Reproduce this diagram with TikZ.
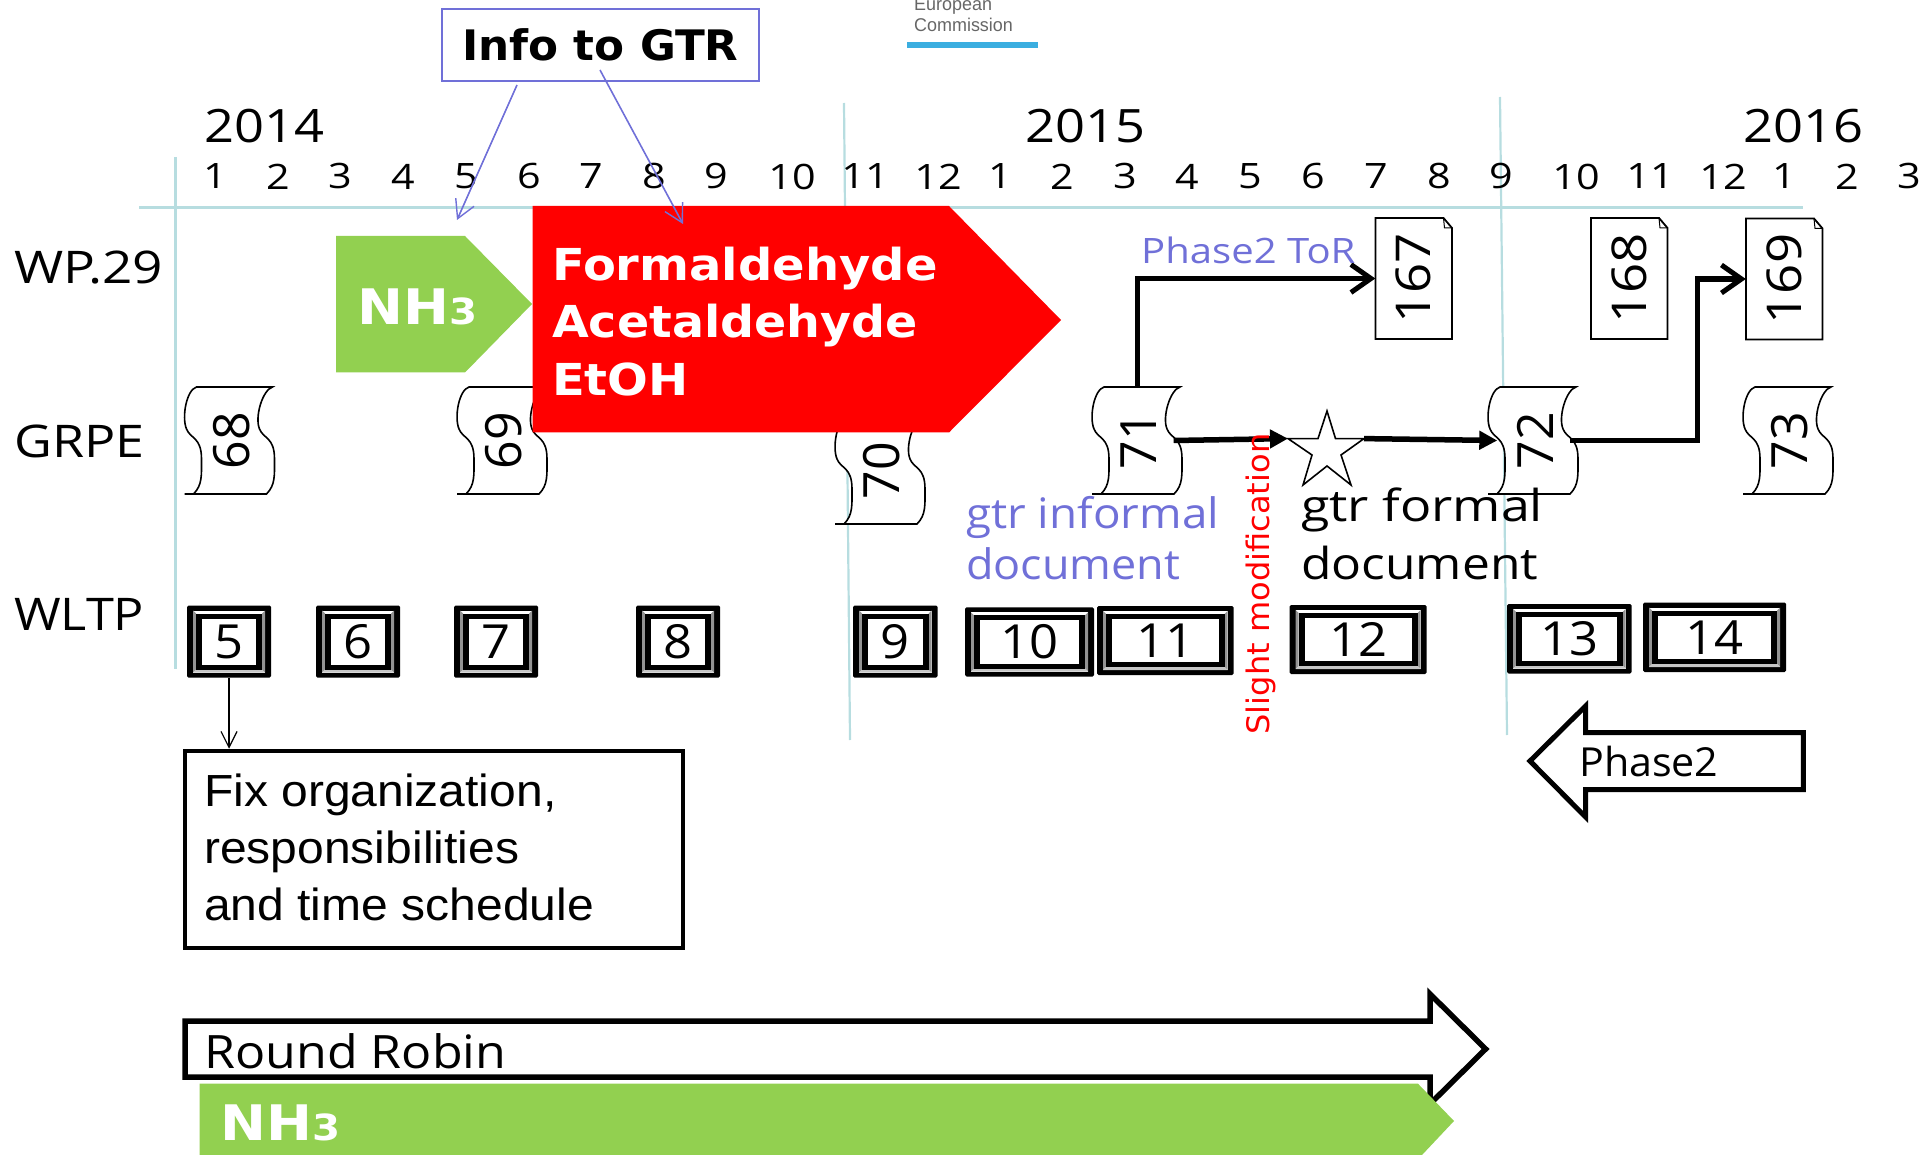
\documentclass[tikz,border=0pt]{standalone}
\usepackage{fontspec}
\usetikzlibrary{arrows.meta}
\setmainfont{Open Sans}
\newfontfamily\arialf{Liberation Sans}
\newfontfamily\wideb{DejaVu Sans}
\definecolor{gridc}{HTML}{B7DDE0}
\definecolor{bluet}{HTML}{7070D8}
\definecolor{greenb}{HTML}{92D050}
\definecolor{logob}{HTML}{3BAEE0}
\newcommand{\fs}[1]{\fontsize{#1}{#1}\selectfont}
\newcommand{\wsc}[2]{\scalebox{#1}[1]{#2}}
\newcommand{\scrollshape}[4]{% name, left x, top y, text
  \begin{scope}[shift={(#2,#3)}]
    \draw[scrollline,fill=white] (12,0) -- (88,0) .. controls (78,3) and (70,30) .. (75,42) .. controls (79,52) and (90,50) .. (90,72) .. controls (90,88) and (91,98) .. (82,107) -- (0,107) -- (9,107) .. controls (18,98) and (17,88) .. (17,72) .. controls (17,50) and (6,52) .. (2,42) .. controls (-3,30) and (2,3) .. (12,0) -- cycle;
  \end{scope}
  \node[scrolltext] (#1) at (#2+45.5,#3+53.5) {\hspace*{3pt}\rotatebox{90}{#4}};
}
\newcommand{\docshape}[4]{% name, x1, y1, text
  \begin{scope}[shift={(#2,#3)}]
    \draw[docline,fill=white] (0,0) -- (68,0) -- (76.5,10) -- (76.5,121) -- (0,121) -- cycle;
    \draw[line width=1pt] (68,0) -- (69,10) -- (76.5,10);
  \end{scope}
  \node[doctext] (#1) at (#2+38.25,#3+60.5) {\rotatebox{90}{\wsc{1.1}{#4}}};
}
\newcommand{\bevelbox}[6]{% name x1 y1 x2 y2 text
  \fill[black,rounded corners=1.5pt] (#2,#3) rectangle (#4,#5);
  \fill[white] (#2+6,#3+5) rectangle (#4-6,#5-5);
  \fill[gray!85] (#2+6,#3+5) -- (#2+9,#3+8) -- (#2+9,#5-8) -- (#2+6,#5-5) -- cycle;
  \fill[gray!85] (#4-6,#3+5) -- (#4-9,#3+8) -- (#4-9,#5-8) -- (#4-6,#5-5) -- cycle;
  \fill[gray!45] (#2+6,#5-5) -- (#2+9,#5-8) -- (#4-9,#5-8) -- (#4-6,#5-5) -- cycle;
  \fill[black] (#2+9,#3+8) rectangle (#4-9,#5-8);
  \fill[white] (#2+15,#3+13) rectangle (#4-15,#5-13);
  \node[bevtext,minimum width=#4-#2,minimum height=#5-#3] (#1) at ({(#2+#4)/2},{(#3+#5)/2}) {\wsc{1.08}{#6}};
}
\tikzset{
  gridline/.style={gridc,line width=2.2pt},
  scrollline/.style={black,line width=1.6pt},
  docline/.style={black,line width=1.8pt},
  scrolltext/.style={inner sep=0pt,minimum width=72pt,minimum height=107pt,font=\fs{50}},
  doctext/.style={inner sep=0pt,minimum width=76.5pt,minimum height=121pt,font=\fs{48}},
  bevtext/.style={inner sep=0pt,font=\fs{47}},
  month/.style={inner sep=0pt,font=\fs{35}},
  year/.style={inner sep=0pt,font=\fs{46}},
  rowlabel/.style={inner sep=0pt,anchor=base west,font=\fs{45}},
  thick arrow/.style={black,line width=5.5pt,-{Straight Barb[length=20pt,width=28pt,line width=5pt]}},
  thick solid/.style={black,line width=5.5pt,-{Triangle[length=18pt,width=18pt]}},
  thin blue/.style={bluet,line width=1.6pt,-{Straight Barb[length=18pt,width=20pt,line width=1.4pt]}},
  blocktext/.style={inner sep=0pt,anchor=base west,white,font=\fs{44}\bfseries\wideb},
  plaintext/.style={inner sep=0pt,anchor=base west},
}
\begin{document}
\begin{tikzpicture}[x=1pt,y=-1pt]
\useasboundingbox (0,0) rectangle (1923,1155);
\clip (0,0) rectangle (1923,1155);
% grid
\draw[gridc,line width=3pt] (139,208) -- (1803,208);
\draw[gridline] (175.5,157) -- (175.5,669);
\draw[gridline] (844,103) -- (850,740);
\draw[gridline] (1500,97) -- (1507,735);
% logo
\node[plaintext,gray!80!black,font=\arialf\fs{18.5}] (eu1) at (914,11) {\wsc{.97}{European}};
\node[plaintext,gray!80!black,font=\arialf\fs{18.5}] (eu2) at (914,32) {\wsc{.97}{Commission}};
\fill[logob] (907,42) rectangle (1038,48);
% years
\node[year] (y14) at (264,126) {\wsc{1.14}{2014}};
\node[year] (y15) at (1085,126) {\wsc{1.14}{2015}};
\node[year] (y16) at (1803,126) {\wsc{1.14}{2016}};
% months
\foreach \xx/\mm in {215/1,278/2,340/3,403/4,466/5,529/6,591/7,654/8,716/9,792/10,865/11,938/12,1000/1,1062/2,1125/3,1187/4,1250/5,1313/6,1376/7,1439/8,1501/9,1576/10,1650/11,1723/12,1784/1,1847/2,1909/3}
  \node[month] at (\xx,176.5) {\wsc{1.18}{\mm}};
% row labels
\node[rowlabel] (wp) at (14,284) {\wsc{1.18}{WP.29}};
\node[rowlabel] (gr) at (14,457) {\wsc{1.155}{GRPE}};
\node[rowlabel] (wl) at (14,630) {\wsc{1.12}{WLTP}};
% scrolls
\scrollshape{s68}{184.5}{387}{68}
\scrollshape{s69}{457}{387}{69}
\scrollshape{s70}{835}{417}{70}
\scrollshape{s71}{1092}{387}{71}
\scrollshape{s72}{1488}{387}{72}
\scrollshape{s73}{1743}{387}{73}
% docs
\docshape{d167}{1375.5}{218}{167}
\docshape{d168}{1591}{218}{168}
\docshape{d169}{1746}{218.5}{169}
% coloured blocks
\fill[greenb] (336,236) -- (465,236) -- (532,304) -- (465,372.5) -- (336,372.5) -- cycle;
\node[blocktext] (nh1) at (357,324.5) {\wsc{1.12}{\fs{49}NH\fs{36}3}};
\fill[red] (532.5,206) -- (949,206) -- (1061,320) -- (949,432.5) -- (532.5,432.5) -- cycle;
\node[blocktext] (f1) at (552,280.5) {\wsc{1.09}{Formaldehyde}};
\node[blocktext] (f2) at (552,338) {\wsc{1.08}{Acetaldehyde}};
\node[blocktext] (f3) at (552,395.5) {\wsc{1.09}{EtOH}};
% info
\node[draw=bluet,line width=2pt,inner sep=0pt,minimum width=317pt,minimum height=72pt,font=\fs{42}\bfseries\wideb] (info) at (600.5,45) {\raisebox{-1.5pt}{\wsc{1.04}{Info to GTR}}};
\coordinate (ia) at (517,85);
\coordinate (iat) at (457,220);
\coordinate (ib) at (600,70);
\coordinate (ibt) at (683,224);
\draw[thin blue] (ia) -- (iat);
\draw[thin blue] (ib) -- (ibt);
% star
\coordinate (starW) at (1288,438.6);
\coordinate (starE) at (1364,438.6);
\draw[black,line width=1.6pt,fill=white] (1327,411) -- (1335.5,438.6) -- (starE) -- (1341,455) -- (1351,485) -- (1327,466) -- (1303,485) -- (1312,455) -- (starW) -- (1318,438.6) -- cycle;
% thick connectors
\draw[thick arrow] (s71.north) |- (d167.west);
\draw[thick solid] (s71.east) -- (starW);
\draw[thick solid] (starE) -- (s72.west);
\draw[thick arrow] (s72.east) -| (1697.5,279) -- (d169.west);
% labels
\node[plaintext,bluet,font=\fs{35}] (tor) at (1141,263.5) {\wsc{1.145}{Phase2 ToR}};
\node[plaintext,bluet,font=\fs{42}] (gi1) at (966,528) {\wsc{1.09}{gtr informal}};
\node[plaintext,bluet,font=\fs{42}] (gi2) at (966,579) {\wsc{1.07}{document}};
\node[plaintext,black,font=\fs{44}] (gf1) at (1301,521) {\wsc{1.18}{gtr formal}};
\node[plaintext,black,font=\fs{44}] (gf2) at (1301,579) {\wsc{1.13}{document}};
\node[inner sep=0pt,red,rotate=90,font=\wideb\fs{31}] (sm) at (1261,584) {\wsc{1.035}{Slight modification}};
% wltp boxes
\bevelbox{w5}{187}{605.5}{271}{677.6}{5}
\bevelbox{w6}{316}{605.5}{400}{677.6}{6}
\bevelbox{w7}{454}{605.5}{538}{677.6}{7}
\bevelbox{w8}{636}{605.5}{720}{677.6}{8}
\bevelbox{w9}{853}{605.5}{937.5}{677.6}{9}
\bevelbox{w10}{965}{607.4}{1094}{676.5}{10}
\bevelbox{w11}{1097}{606}{1233.7}{675}{11}
\bevelbox{w12}{1289.6}{605}{1426.7}{674}{12}
\bevelbox{w13}{1507}{604}{1631.5}{673.5}{13}
\bevelbox{w14}{1643}{602.5}{1786}{672}{14}
% fix box
\node[draw=black,line width=4.5pt,minimum width=498pt,minimum height=197pt,inner sep=0pt] (fix) at (434,849.5) {};
\node[plaintext,font=\arialf\fs{45}] (fx1) at (204,806.7) {\wsc{1.067}{Fix organization,}};
\node[plaintext,font=\arialf\fs{45}] (fx2) at (204,863.6) {\wsc{1.067}{responsibilities}};
\node[plaintext,font=\arialf\fs{45}] (fx3) at (204,920.5) {\wsc{1.067}{and time schedule}};
\draw[black,line width=1.4pt,-{Straight Barb[length=16pt,width=16pt,line width=1.2pt]}] (w5.south) -- (w5.south |- fix.north);
% phase2
\draw[black,line width=5pt,fill=white] (1530,761) -- (1585.6,706) -- (1585.6,732.7) -- (1803.4,732.7) -- (1803.4,789.6) -- (1585.6,789.6) -- (1585.6,817) -- cycle;
\node[plaintext,font=\fs{40}] (ph) at (1579,776) {\wsc{1.03}{Phase2}};
% round robin
\draw[black,line width=5.5pt,fill=white] (185,1021) -- (1430,1021) -- (1430,994) -- (1485.6,1049) -- (1430,1104) -- (1430,1077) -- (185,1077) -- cycle;
\node[plaintext,font=\fs{46}] (rr) at (204,1068) {\wsc{1.09}{Round Robin}};
\fill[greenb] (199.6,1083.7) -- (1418,1083.7) -- (1454,1121) -- (1422,1155) -- (199.6,1155) -- cycle;
\node[blocktext] (nh2) at (220,1140.6) {\wsc{1.12}{\fs{49}NH\fs{36}3}};
\end{tikzpicture}
\end{document}
